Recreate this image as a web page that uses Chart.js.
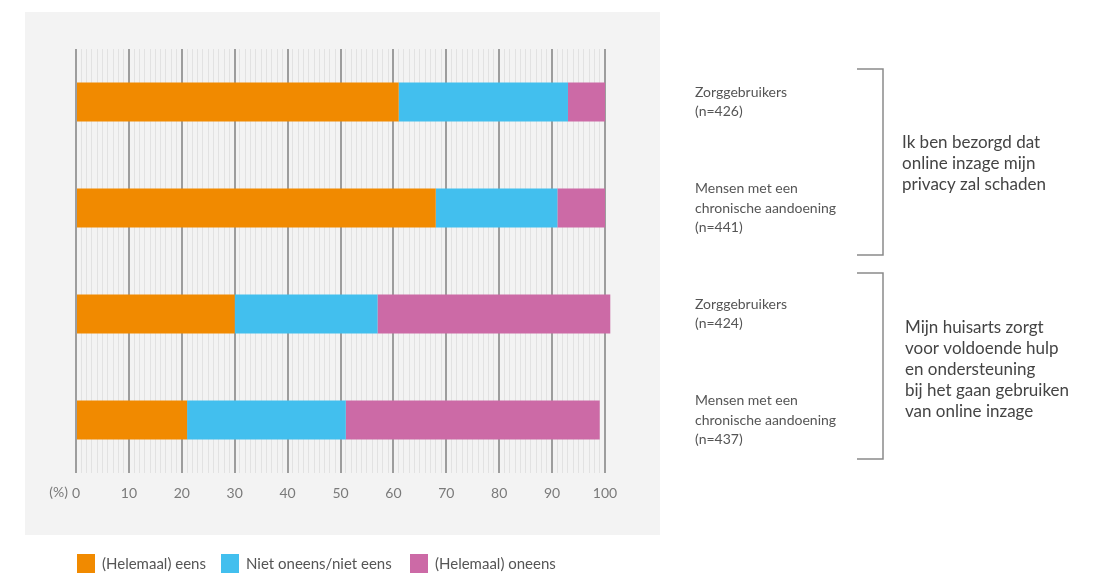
<!DOCTYPE html>
<html>
<head>
<meta charset="utf-8">
<script src="https://cdn.jsdelivr.net/npm/chart.js@4"></script>
<style>
  html, body { margin: 0; padding: 0; background: #fff; }
  #wrap { width: 1103px; height: 573px; }
</style>
</head>
<body>
<div id="wrap"><canvas id="chart" width="1103" height="573"></canvas></div>
<script>
// ===== 数据 =====
const groups = [
  ['Zorggebruikers', '(n=426)'],
  ['Mensen met een', 'chronische aandoening', '(n=441)'],
  ['Zorggebruikers', '(n=424)'],
  ['Mensen met een', 'chronische aandoening', '(n=437)'],
];
const seriesNames = ['(Helemaal) eens', 'Niet oneens/niet eens', '(Helemaal) oneens'];
const eens     = [61, 68, 30, 21];
const neutraal = [32, 23, 27, 30];
const oneens   = [7, 9, 44, 48];
const statements = [
  ['Ik ben bezorgd dat', 'online inzage mijn', 'privacy zal schaden'],
  ['Mijn huisarts zorgt', 'voor voldoende hulp', 'en ondersteuning', 'bij het gaan gebruiken', 'van online inzage'],
];

const colors = ['#f18a00', '#42bfee', '#cc6aa6'];
const FONT = 'Lato, "Open Sans", sans-serif';

// ===== 装饰插件：灰色底板 / (%) / 括号 / 说明文字 / 图例 =====
const decoPlugin = {
  id: 'deco',
  beforeDraw(chart) {
    const { ctx } = chart;
    ctx.save();
    ctx.fillStyle = '#fff';
    ctx.fillRect(0, 0, chart.width, chart.height);
    ctx.fillStyle = '#f3f3f3';
    ctx.fillRect(25, 12, 635, 523);
    ctx.restore();
  },
  afterDraw(chart) {
    const { ctx, chartArea } = chart;
    ctx.save();

    // (%) 单位
    ctx.font = `14px ${FONT}`;
    ctx.fillStyle = '#7a7a7a';
    ctx.textAlign = 'right';
    ctx.textBaseline = 'middle';
    ctx.fillText('(%)', 68, chartArea.bottom + 19);

    // 括号
    ctx.strokeStyle = '#8a8a8a';
    ctx.lineWidth = 1.5;
    [[69, 255], [273, 459]].forEach(([t, b]) => {
      ctx.beginPath();
      ctx.moveTo(857, t);
      ctx.lineTo(883, t);
      ctx.lineTo(883, b);
      ctx.lineTo(857, b);
      ctx.stroke();
    });

    // 说明文字
    ctx.font = `17px ${FONT}`;
    ctx.fillStyle = '#444';
    ctx.textAlign = 'left';
    const blocks = [{ x: 902, y: 143, lh: 21 }, { x: 905, y: 328, lh: 21 }];
    statements.forEach((lines, i) => {
      const b = blocks[i];
      lines.forEach((s, j) => ctx.fillText(s, b.x, b.y + j * b.lh));
    });

    // 图例
    ctx.font = `15px ${FONT}`;
    const lx = [77, 221, 410];
    chart.data.datasets.forEach((ds, i) => {
      ctx.fillStyle = ds.backgroundColor;
      ctx.fillRect(lx[i], 554, 18, 19);
      ctx.fillStyle = '#555';
      ctx.fillText(ds.label, lx[i] + 25, 564);
    });

    ctx.restore();
  },
};

new Chart(document.getElementById('chart'), {
  type: 'bar',
  plugins: [decoPlugin],
  data: {
    labels: groups,
    datasets: [
      { label: seriesNames[0], data: eens,     backgroundColor: colors[0] },
      { label: seriesNames[1], data: neutraal, backgroundColor: colors[1] },
      { label: seriesNames[2], data: oneens,   backgroundColor: colors[2] },
    ],
  },
  options: {
    indexAxis: 'y',
    responsive: false,
    animation: false,
    layout: { padding: { left: 76, top: 49, right: 0, bottom: 0 } },
    datasets: { bar: { barPercentage: 0.37, categoryPercentage: 1, clip: false } },
    plugins: { legend: { display: false }, tooltip: { enabled: false } },
    scales: {
      x: {
        stacked: true,
        min: 0, max: 100,
        afterBuildTicks(scale) {
          scale.ticks = Array.from({ length: 101 }, (_, i) => ({ value: i }));
        },
        afterFit(scale) {
          scale.height = 100;
          scale.paddingLeft = scale.paddingRight = 0;
        },
        border: { display: false },
        grid: {
          drawTicks: false,
          color: c => (c.tick && c.tick.value % 10 === 0) ? '#9d9d9d' : '#e2e2e2',
          lineWidth: c => (c.tick && c.tick.value % 10 === 0) ? 2 : 1,
        },
        ticks: {
          autoSkip: false,
          maxRotation: 0,
          padding: 12,
          color: '#7a7a7a',
          font: { family: FONT, size: 14 },
          callback: v => (v % 10 === 0 ? String(v) : ''),
        },
      },
      y: {
        stacked: true,
        position: 'right',
        afterFit(scale) {
          scale.width = 1103 - 605;
          scale.paddingTop = scale.paddingBottom = 0;
        },
        border: { display: false },
        grid: { display: false, drawTicks: false },
        ticks: {
          padding: 90,
          color: '#555',
          font: { family: FONT, size: 14, lineHeight: 1.36 },
        },
      },
    },
  },
});
</script>
</body>
</html>
